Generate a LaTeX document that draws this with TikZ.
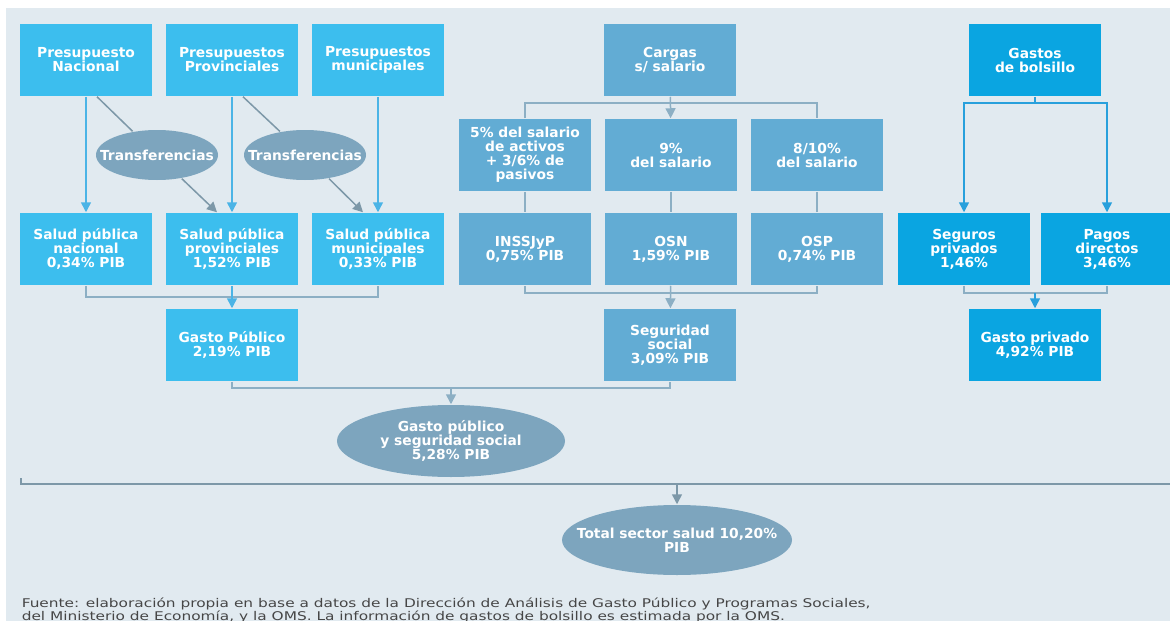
\documentclass[tikz,border=0pt]{standalone}
\usepackage{fontspec}
\setmainfont{DejaVu Sans}
\newfontfamily\footfont{DejaVu Sans}[FakeStretch=1.28]
\usetikzlibrary{shapes.geometric,arrows.meta}

\definecolor{fondo}{RGB}{225,234,240}
\definecolor{azulpub}{RGB}{60,190,238}
\definecolor{azulpriv}{RGB}{10,165,225}
\definecolor{azulsoc}{RGB}{98,172,212}
\definecolor{grisov}{RGB}{125,165,190}
\definecolor{lineapub}{RGB}{75,180,230}
\definecolor{lineagris}{RGB}{125,152,168}
\definecolor{lineasoc}{RGB}{140,175,196}
\definecolor{lineapriv}{RGB}{40,160,220}
\definecolor{pie}{RGB}{70,70,70}

\tikzset{
  caja/.style={rectangle, minimum width=132pt, minimum height=72pt, inner sep=0pt,
    align=center, text=white, font=\bfseries\fontsize{13.8}{14}\selectfont},
  pub/.style={caja, fill=azulpub},
  soc/.style={caja, fill=azulsoc},
  priv/.style={caja, fill=azulpriv},
  ovalo/.style={ellipse, fill=grisov, inner sep=-30pt, align=center, text=white,
    font=\bfseries\fontsize{13.8}{14}\selectfont},
  flecha/.style={-{Triangle[width=10pt,length=10pt]}},
}

\begin{document}
\begin{tikzpicture}[x=1pt, y=-1pt, node distance=146pt, line width=1.5pt]
            \useasboundingbox (0,0) rectangle (1170,621);
            \fill[fondo] (6,8) rectangle (1175,625);

            \node[pub] (nac) at (86,60) {Presupuesto\\Nacional};
            \node[pub] (prov) [right of=nac] {Presupuestos\\Provinciales};
            \node[pub] (mun) [right of=prov] {Presupuestos\\municipales};
            \node[pub] (snac) at (86,249) {Salud pública\\nacional\\0,34\% PIB};
            \node[pub] (sprov) [right of=snac] {Salud pública\\provinciales\\1,52\% PIB};
            \node[pub] (smun) [right of=sprov] {Salud pública\\municipales\\0,33\% PIB};
            \node[pub] (gpub) at (232,345) {Gasto Público\\2,19\% PIB};
            \node[ovalo, minimum width=122pt, minimum height=50pt] (tr1) at (157,155) {Transferencias};
            \node[ovalo, minimum width=122pt, minimum height=50pt] (tr2) [right of=tr1, node distance=148pt] {Transferencias};

            \node[soc] (cargas) at (670,60) {Cargas\\s/ salario};
            \node[soc] (c5) at (525,155) {5\% del salario\\de activos\\+ 3/6\% de\\pasivos};
            \node[soc] (c9) [right of=c5] {9\%\\del salario};
            \node[soc] (c8) [right of=c9] {8/10\%\\del salario};
            \node[soc] (inss) at (525,249) {INSSJyP\\0,75\% PIB};
            \node[soc] (osn) [right of=inss] {OSN\\1,59\% PIB};
            \node[soc] (osp) [right of=osn] {OSP\\0,74\% PIB};
            \node[soc] (segsoc) at (670,345) {Seguridad\\social\\3,09\% PIB};

            \node[priv] (bolsillo) at (1035,60) {Gastos\\de bolsillo};
            \node[priv] (seg) at (964,249) {Seguros\\privados\\1,46\%};
            \node[priv] (pagos) at (1107,249) {Pagos\\directos\\3,46\%};
            \node[priv] (gpriv) at (1035,345) {Gasto privado\\4,92\% PIB};

            \node[ovalo, minimum width=228pt, minimum height=72pt] (gpys) at (451,441) {Gasto público\\y seguridad social\\5,28\% PIB};
            \node[ovalo, minimum width=230pt, minimum height=70pt] (total) at (677,540) {Total sector salud 10,20\%\\PIB};

            \coordinate (j1) at (232,297);
            \coordinate (j2) at (670,103);
            \coordinate (j3) at (670,293);
            \coordinate (j4) at (451,388);
            \coordinate (j5) at (1035,103);
            \coordinate (j6) at (1035,293);
            \coordinate (l1) at (21,478);
            \coordinate (j7) at (677,484);
            \coordinate (r1) at (1175,484);

            \draw[flecha, lineapub] (nac) -- (snac);
            \draw[flecha, lineapub] (prov) -- (sprov);
            \draw[flecha, lineapub] (mun) -- (smun);
            \draw[lineagris] ([xshift=11pt]nac.south) -- (tr1);
            \draw[flecha, lineagris] (tr1) -- ([xshift=-15pt]sprov.north);
            \draw[lineagris] ([xshift=11pt]prov.south) -- (tr2);
            \draw[flecha, lineagris] (tr2) -- ([xshift=-15pt]smun.north);
            \draw[lineasoc] (snac) |- (j1) -| (smun);
            \draw[flecha, lineapub] (sprov) -- (gpub);

            \draw[lineasoc] (c5) |- (j2) -| (c8);
            \draw[flecha, lineasoc] (cargas) -- (c9);
            \draw[lineasoc] (c5) -- (inss);
            \draw[lineasoc] (c9) -- (osn);
            \draw[lineasoc] (c8) -- (osp);
            \draw[lineasoc] (inss) |- (j3) -| (osp);
            \draw[flecha, lineasoc] (osn) -- (segsoc);

            \draw[lineasoc] (gpub) |- (j4) -| (segsoc);
            \draw[flecha, lineasoc] (j4) -- (gpys);

            \draw[lineapriv] (bolsillo) -- (j5);
            \draw[flecha, lineapriv] (j5) -| (seg);
            \draw[flecha, lineapriv] (j5) -| (pagos);
            \draw[lineasoc] (seg) |- (j6) -| (pagos);
            \draw[flecha, lineapriv] (j6) -- (gpriv);

            \draw[lineagris] (l1) |- (j7) -- (r1);
            \draw[flecha, lineagris] (j7) -- (total);

            \node[anchor=base west, inner sep=0pt, text=pie, font=\footfont\fontsize{12}{13}\selectfont] (f1) at (21,607) {Fuente: elaboración propia en base a datos de la Dirección de Análisis de Gasto Público y Programas Sociales,};
            \node[anchor=base west, inner sep=0pt, text=pie, font=\footfont\fontsize{12}{13}\selectfont] (f2) at (21,620) {del Ministerio de Economía, y la OMS. La información de gastos de bolsillo es estimada por la OMS.};
        \end{tikzpicture}
\end{document}
